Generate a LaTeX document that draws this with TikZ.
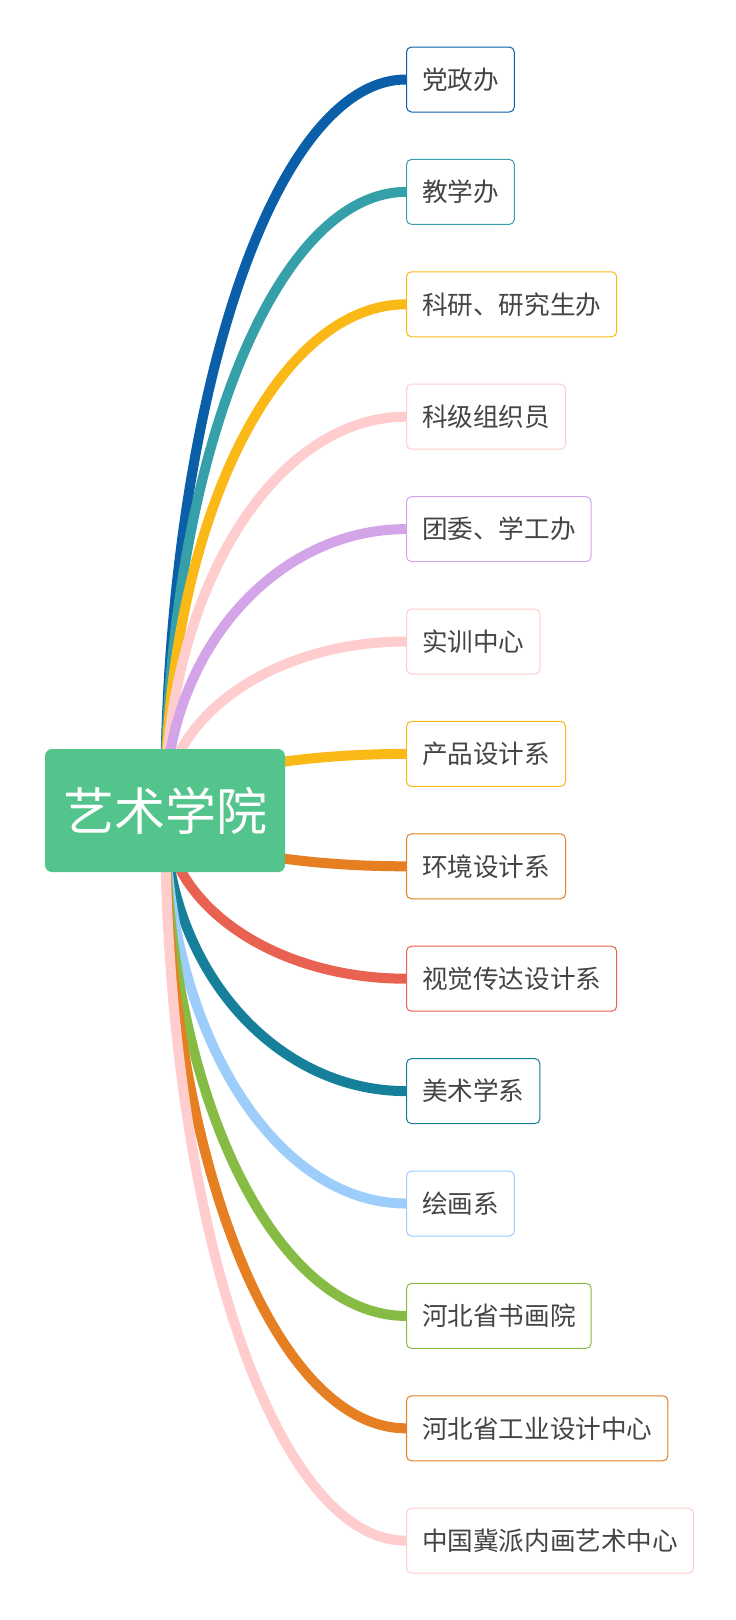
\documentclass[tikz,border=0pt]{standalone}
\usepackage{fontspec}
\newfontfamily\cjk{Noto Sans CJK SC}
\usetikzlibrary{calc,backgrounds}

% 颜色
\definecolor{genlv}{HTML}{52C48C}
\definecolor{wenzi}{HTML}{444444}
\definecolor{lan}{HTML}{0B5EA8}
\definecolor{qing}{HTML}{36A0AA}
\definecolor{huang}{HTML}{FBB917}
\definecolor{fen}{HTML}{FFCDCD}
\definecolor{ziluo}{HTML}{D3A4E8}
\definecolor{cheng}{HTML}{E67E22}
\definecolor{hong}{HTML}{E96150}
\definecolor{shenqing}{HTML}{167F9A}
\definecolor{qianlan}{HTML}{9DCDFB}
\definecolor{caolv}{HTML}{86BC43}

\tikzset{
    gen/.style={fill=genlv, rounded corners=7pt, text=white,
        font=\cjk\fontsize{51}{60}\selectfont,
        minimum width=240pt, minimum height=123pt, inner sep=0pt},
    zi/.style={draw=#1, fill=white, rounded corners=5pt, line width=1pt,
        text=wenzi, font=\cjk\fontsize{25.6}{30}\selectfont,
        inner xsep=15.5pt, minimum height=65pt, anchor=west},
    lian/.style={line width=10pt, draw=#1},
}

\begin{document}
\begin{tikzpicture}[x=1pt,y=-1pt]
    \useasboundingbox (0,0) rectangle (736,1620);

    % 绘制中心节点
    \node[gen] (root) at (165,810.5) {艺术学院};

    % 绘制分支节点和连线
    \foreach \i/\ming/\se in {1/党政办/lan, 2/教学办/qing, 3/科研、研究生办/huang,
        4/科级组织员/fen, 5/团委、学工办/ziluo, 6/实训中心/fen, 7/产品设计系/huang,
        8/环境设计系/cheng, 9/视觉传达设计系/hong, 10/美术学系/shenqing,
        11/绘画系/qianlan, 12/河北省书画院/caolv, 13/河北省工业设计中心/cheng,
        14/中国冀派内画艺术中心/fen} {
        \node[zi=\se] (c\i) at (406,{79.5+112.4*(\i-1)}) {\ming};
        \begin{pgfonlayer}{background}
            \draw[lian=\se] (root.center)
                .. controls ($(root.center)!0.552!(root.center |- c\i.west)$)
                and ($(c\i.west)!0.552!(root.center |- c\i.west)$) .. (c\i.west);
        \end{pgfonlayer}
    }
\end{tikzpicture}
\end{document}
